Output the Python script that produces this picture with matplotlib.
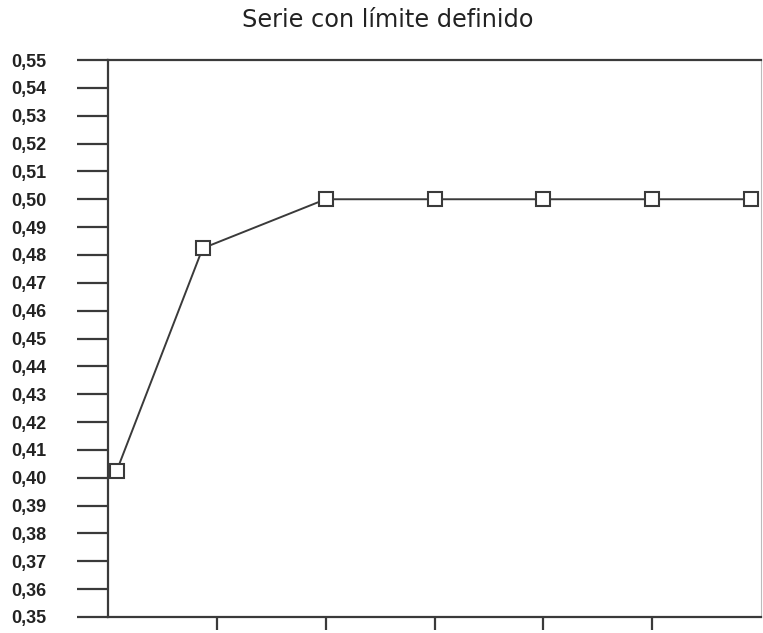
import matplotlib
matplotlib.use("Agg")
import matplotlib.pyplot as plt
from matplotlib.ticker import FixedLocator

title = "Serie con límite definido"
x_values = [0.08, 0.87, 2, 3, 4, 5, 5.91]
y_values = [0.4025, 0.4824, 0.50, 0.50, 0.50, 0.50, 0.50]
y_ticks = [round(0.35 + 0.01 * i, 2) for i in range(21)]
y_tick_labels = [f"{v:.2f}".replace(".", ",") for v in y_ticks]
x_ticks = [1, 2, 3, 4, 5]

W, H = 763, 633
fig = plt.figure(figsize=(W / 100, H / 100), dpi=100)
ax = fig.add_axes([108 / W, (H - 617) / H, (761 - 108) / W, (617 - 60) / H])

dark = "#3a3a3a"
ax.plot(x_values, y_values, color=dark, lw=1.4, marker="s", markersize=9.5,
        markerfacecolor="white", markeredgecolor=dark, markeredgewidth=1.5,
        clip_on=False, zorder=3)

ax.set_xlim(0, 6)
ax.set_ylim(0.35, 0.55)
ax.yaxis.set_major_locator(FixedLocator(y_ticks))
ax.set_yticklabels(y_tick_labels, fontfamily=["Liberation Sans Narrow", "Liberation Sans"],
                   fontweight="bold", fontsize=13, color="#222222")
ax.xaxis.set_major_locator(FixedLocator(x_ticks))
ax.set_xticklabels([])
ax.tick_params(axis="y", direction="out", length=22.5, width=1.6, color=dark, pad=22)
ax.tick_params(axis="x", direction="out", length=9, width=1.6, color=dark)

for s in ["left", "bottom", "top"]:
    ax.spines[s].set_color(dark)
    ax.spines[s].set_linewidth(1.6)
ax.spines["right"].set_color("#bbbbbb")
ax.spines["right"].set_linewidth(0.8)

fig.text(388 / W, 1 - 20 / H, title, ha="center", va="center",
         fontsize=17.3, color="#222222", fontfamily="DejaVu Sans")

fig.savefig("out.png", dpi=100)
